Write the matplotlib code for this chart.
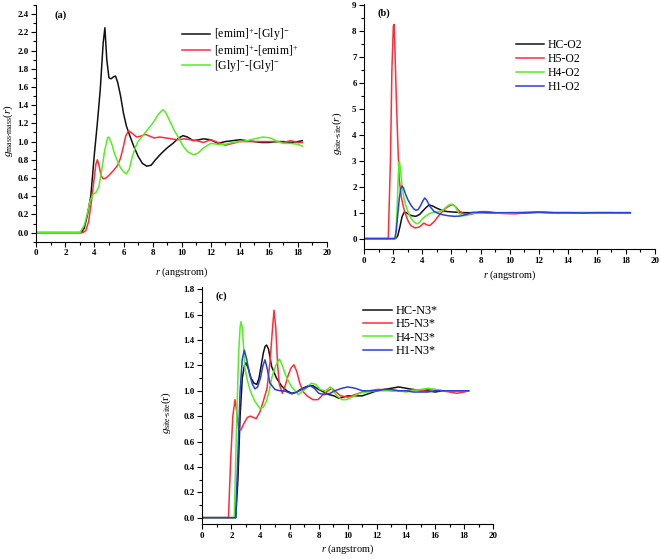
import numpy as np
import matplotlib
matplotlib.use('Agg')
import matplotlib.pyplot as plt
from matplotlib.ticker import MultipleLocator

plt.rcParams['font.family'] = ['Liberation Serif', 'DejaVu Serif']
plt.rcParams['mathtext.fontset'] = 'custom'
plt.rcParams['mathtext.rm'] = 'Liberation Serif'
plt.rcParams['mathtext.it'] = 'Liberation Serif:italic'

# ---- panel (a): centre of mass RDFs ----
a_black_r = [0, 3.1, 3.3, 3.5, 3.75, 4.0, 4.2, 4.4, 4.6, 4.72, 4.85, 5.0, 5.15, 5.3, 5.45, 5.6, 5.8, 6.0, 6.2, 6.4,
             6.7, 7.0, 7.3, 7.6, 7.9, 8.2, 8.6, 9.0, 9.4, 9.8, 10.1, 10.4, 10.8, 11.2, 11.5, 12.0, 12.5, 13.0, 13.5,
             14.0, 14.5, 15.0, 15.5, 16.0, 16.5, 17.0, 17.5, 18.0, 18.3]
a_black_g = [0, 0, 0.05, 0.18, 0.4, 0.87, 1.2, 1.57, 2.08, 2.25, 1.9, 1.70, 1.69, 1.71, 1.72, 1.65, 1.5, 1.31, 1.17, 1.08,
             0.95, 0.84, 0.76, 0.73, 0.74, 0.8, 0.87, 0.93, 0.98, 1.04, 1.065, 1.05, 1.01, 1.02, 1.03, 1.02, 0.98, 1.0, 1.01,
             1.02, 1.01, 1.0, 0.99, 0.99, 1.0, 1.0, 0.99, 1.0, 1.01]
a_red_r = [0, 3.2, 3.4, 3.6, 3.8, 4.0, 4.1, 4.2, 4.3, 4.45, 4.6, 4.8, 5.0, 5.3, 5.6, 5.8, 6.0, 6.15, 6.35, 6.6, 6.9,
           7.2, 7.5, 7.8, 8.1, 8.5, 8.9, 9.3, 9.7, 10.2, 10.6, 11.0, 11.5, 12.0, 12.5, 13.0, 13.5, 14.0, 14.5, 15.0,
           15.5, 16.0, 16.5, 17.0, 17.5, 18.0, 18.3]
a_red_g = [0, 0, 0.02, 0.12, 0.35, 0.62, 0.75, 0.80, 0.75, 0.63, 0.59, 0.6, 0.63, 0.68, 0.74, 0.82, 0.95, 1.06, 1.12, 1.09,
           1.05, 1.06, 1.08, 1.06, 1.04, 1.05, 1.04, 1.03, 1.02, 1.03, 1.02, 1.01, 0.99, 1.02, 0.99, 0.96, 0.98, 1.0, 1.0,
           1.0, 1.0, 1.0, 1.0, 0.99, 1.01, 0.99, 0.99]
a_green_r = [0, 3.0, 3.3, 3.5, 3.7, 3.9, 4.1, 4.3, 4.5, 4.7, 4.9, 5.0, 5.2, 5.4, 5.6, 5.8, 6.0, 6.2, 6.4, 6.6, 6.8,
             7.0, 7.3, 7.6, 8.0, 8.4, 8.7, 8.9, 9.2, 9.5, 9.8, 10.1, 10.4, 10.8, 11.1, 11.5, 12.0, 12.5, 13.0, 13.5,
             14.0, 14.5, 15.0, 15.6, 16.1, 16.6, 17.0, 17.5, 18.0, 18.3]
a_green_g = [0, 0, 0.08, 0.2, 0.35, 0.42, 0.44, 0.5, 0.68, 0.9, 1.04, 1.05, 0.97, 0.86, 0.78, 0.71, 0.67, 0.645, 0.7, 0.83,
             0.93, 1.0, 1.06, 1.12, 1.2, 1.3, 1.35, 1.32, 1.22, 1.12, 1.04, 0.95, 0.89, 0.855, 0.87, 0.93, 0.98, 0.97,
             0.97, 0.99, 1.0, 1.01, 1.03, 1.05, 1.04, 1.0, 0.98, 0.98, 0.97, 0.95]
a_labels = ['[emim]$^{+}$-[Gly]$^{-}$', '[emim]$^{+}$-[emim]$^{+}$', '[Gly]$^{-}$-[Gly]$^{-}$']

# ---- panel (b): H ... O2 site-site RDFs ----
b_hc_r = [0, 2.15, 2.3, 2.45, 2.6, 2.75, 2.9, 3.1, 3.3, 3.55, 3.8, 4.0, 4.2, 4.45, 4.7, 5.0, 5.3, 5.6, 6.0, 6.5,
          7, 8, 9, 10, 11, 12, 13, 14, 15, 16, 17, 18.3]
b_hc_g = [0, 0, 0.1, 0.45, 0.85, 1.02, 1.0, 0.92, 0.88, 0.86, 0.93, 1.05, 1.17, 1.3, 1.26, 1.17, 1.1, 1.05, 1.03, 1.01,
          1.0, 1.0, 0.99, 1.0, 1.0, 1.02, 1.0, 1.0, 1.0, 1.0, 1.0, 1.0]
b_h5_r = [0, 1.65, 1.8, 1.9, 2.0, 2.05, 2.1, 2.2, 2.3, 2.4, 2.55, 2.7, 2.8, 3.0, 3.2, 3.5, 3.8, 4.1, 4.3, 4.5, 4.8,
          5.0, 5.3, 5.6, 5.9, 6.1, 6.3, 6.5, 6.7, 7.0, 7.3, 7.6, 8.0, 8.5, 9.0, 9.5, 10.0, 10.5, 11, 12, 13, 14,
          15, 16, 17, 18.3]
b_h5_g = [0, 0, 3.0, 6.5, 8.2, 8.26, 7.5, 5.5, 3.8, 2.3, 1.6, 1.2, 1.0, 0.7, 0.5, 0.41, 0.45, 0.6, 0.53, 0.5, 0.65,
          0.8, 1.0, 1.17, 1.28, 1.31, 1.22, 1.08, 1.0, 0.93, 0.93, 0.98, 1.04, 1.04, 1.0, 0.97, 0.96, 0.96, 0.99, 1.01,
          1.0, 1.0, 1.0, 1.0, 1.0, 0.98]
b_h4_r = [0, 2.15, 2.25, 2.32, 2.38, 2.42, 2.5, 2.6, 2.75, 2.9, 3.05, 3.2, 3.4, 3.6, 3.8, 4.0, 4.2, 4.5, 4.8, 5.1,
          5.4, 5.7, 5.9, 6.1, 6.3, 6.5, 6.8, 7.1, 7.4, 7.8, 8.5, 9, 10, 11, 12, 13, 14, 15, 16, 17, 18.3]
b_h4_g = [0, 0, 1.0, 2.2, 2.9, 2.99, 2.6, 2.0, 1.5, 1.2, 0.98, 0.8, 0.65, 0.57, 0.62, 0.77, 0.86, 0.97, 1.02, 1.03,
          1.1, 1.25, 1.32, 1.32, 1.2, 0.98, 0.88, 0.9, 0.98, 1.0, 1.0, 0.99, 0.98, 1.02, 1.01, 1.0, 1.0, 1.0, 1.0,
          1.0, 1.0]
b_h1_r = [0, 2.1, 2.2, 2.3, 2.4, 2.5, 2.6, 2.7, 2.85, 3.0, 3.2, 3.4, 3.55, 3.7, 3.85, 4.0, 4.15, 4.3, 4.5, 4.8,
          5.1, 5.4, 5.8, 6.2, 6.6, 7.0, 7.4, 8.0, 9, 10, 11, 12, 13, 14, 15, 16, 17, 18.3]
b_h1_g = [0, 0, 0.3, 0.9, 1.5, 1.9, 2.03, 1.95, 1.7, 1.5, 1.3, 1.15, 1.09, 1.12, 1.25, 1.42, 1.57, 1.48, 1.25, 1.05,
          0.97, 0.92, 0.88, 0.86, 0.87, 0.93, 1.01, 1.02, 1.0, 1.0, 1.0, 1.02, 1.0, 1.0, 0.99, 1.0, 1.0, 1.0]
b_labels = ['HC-O2', 'H5-O2', 'H4-O2', 'H1-O2']

# ---- panel (c): H ... N3* site-site RDFs ----
c_hc_r = [0, 2.3, 2.45, 2.6, 2.75, 2.9, 3.0, 3.15, 3.35, 3.55, 3.75, 3.9, 4.05, 4.2, 4.32, 4.42, 4.55, 4.77, 5.1,
          5.44, 5.8, 6.15, 6.5, 6.73, 7.3, 7.6, 8.0, 8.35, 8.7, 9.05, 9.4, 10.0, 10.5, 11.0, 11.5, 12.0, 12.5, 13.0,
          13.5, 14.0, 14.5, 15.0, 15.5, 16.0, 16.5, 17.0, 17.5, 18.0, 18.3]
c_hc_g = [0, 0, 0.3, 0.8, 1.1, 1.2, 1.22, 1.18, 1.1, 1.06, 1.05, 1.1, 1.2, 1.3, 1.35, 1.36, 1.33, 1.19, 1.1,
          1.04, 1.0, 0.98, 0.99, 1.01, 1.04, 1.04, 1.01, 0.99, 0.97, 0.96, 0.94, 0.96, 0.96, 0.96, 0.98, 1.0, 1.01, 1.02,
          1.03, 1.02, 1.01, 1.0, 1.0, 0.99, 1.0, 1.0, 1.0, 1.0, 1.0]
c_h5_r = [0, 1.8, 1.95, 2.1, 2.25, 2.35, 2.5, 2.65, 2.85, 3.1, 3.3, 3.5, 3.7, 3.95, 4.2, 4.45, 4.65, 4.8, 4.93,
          5.05, 5.18, 5.3, 5.5, 5.7, 5.9, 6.1, 6.3, 6.5, 6.7, 6.95, 7.2, 7.6, 7.95, 8.3, 8.65, 8.9, 9.2, 9.5, 10.0,
          10.5, 11.0, 11.5, 12.0, 12.5, 13.0, 13.5, 14.0, 14.5, 15.0, 15.5, 16.0, 16.5, 17.0, 17.5, 18.0, 18.3]
c_h5_g = [0, 0, 0.45, 0.8, 0.93, 0.85, 0.7, 0.69, 0.74, 0.79, 0.8, 0.79, 0.78, 0.83, 0.92, 1.02, 1.22, 1.45, 1.635,
          1.5, 1.2, 1.05, 0.98, 1.04, 1.12, 1.18, 1.205, 1.15, 1.06, 0.99, 0.96, 0.93, 0.93, 0.97, 1.0, 1.02, 0.99, 0.96,
          0.95, 0.97, 0.99, 1.0, 1.01, 1.01, 1.0, 1.0, 1.0, 1.01, 1.0, 1.01, 1.01, 1.0, 0.99, 0.98, 0.99, 1.0]
c_h4_r = [0, 2.2, 2.35, 2.5, 2.6, 2.66, 2.75, 2.94, 3.1, 3.3, 3.6, 3.96, 4.2, 4.42, 4.6, 4.77, 5.05, 5.3, 5.5, 5.7,
          5.9, 6.15, 6.6, 7.05, 7.5, 7.8, 8.1, 8.45, 8.8, 9.25, 9.6, 9.9, 10.3, 10.8, 11.3, 12.0, 12.5, 13.0, 13.5,
          14.0, 14.5, 15.0, 15.5, 16.0, 16.5, 17.0, 17.5, 18.0, 18.3]
c_h4_g = [0, 0, 0.7, 1.3, 1.5, 1.544, 1.5, 1.17, 1.08, 1.0, 0.92, 0.86, 0.87, 0.92, 1.0, 1.1, 1.2, 1.25, 1.2, 1.13,
          1.08, 1.03, 0.97, 1.01, 1.06, 1.05, 1.01, 1.0, 1.03, 0.96, 0.93, 0.93, 0.95, 0.98, 0.99, 1.0, 1.0, 1.0, 1.0,
          0.99, 1.0, 1.01, 1.02, 1.01, 1.0, 1.0, 1.0, 1.0, 1.0]
c_h1_r = [0, 2.3, 2.45, 2.6, 2.75, 2.89, 3.05, 3.25, 3.45, 3.62, 3.8, 4.0, 4.15, 4.31, 4.45, 4.65, 5.0, 5.35, 5.7,
          6.15, 6.5, 6.84, 7.41, 7.7, 8.0, 8.4, 8.8, 9.1, 9.6, 10.0, 10.5, 11.0, 11.5, 12.0, 12.5, 13.0, 13.5, 14.0,
          14.5, 15.0, 15.5, 16.0, 16.5, 17.0, 17.5, 18.0, 18.3]
c_h1_g = [0, 0, 0.5, 1.0, 1.25, 1.32, 1.25, 1.13, 1.05, 1.015, 1.03, 1.1, 1.19, 1.244, 1.18, 1.06, 1.01, 1.0, 0.997,
          0.975, 0.99, 1.01, 1.04, 1.02, 0.98, 0.97, 0.98, 1.0, 1.02, 1.03, 1.02, 1.0, 1.0, 1.0, 1.01, 1.01, 1.0, 1.0,
          0.99, 0.99, 0.99, 1.0, 1.0, 1.0, 1.0, 1.0, 1.0]
c_labels = ['HC-N3*', 'H5-N3*', 'H4-N3*', 'H1-N3*']

BLACK, RED, GREEN, BLUE = '#111111', '#ff2d3a', '#55ee22', '#2a3fe0'
LW = 1.1

fig = plt.figure(figsize=(6.61, 5.59), dpi=100)
ax_a = fig.add_axes([0.0549, 0.5676, 0.4398, 0.4234])
ax_b = fig.add_axes([0.5511, 0.5546, 0.4398, 0.4382])
ax_c = fig.add_axes([0.3060, 0.0626, 0.4403, 0.4245])


def style(ax, ylim, ymaj, ymin, ylab, xlab_y, ylab_x, tag, tag_pos, yfmt):
    ax.set_xlim(0, 20)
    ax.set_ylim(*ylim)
    ax.spines['top'].set_visible(False)
    ax.spines['right'].set_visible(False)
    ax.xaxis.set_major_locator(MultipleLocator(2))
    ax.xaxis.set_minor_locator(MultipleLocator(1))
    ax.yaxis.set_major_locator(MultipleLocator(ymaj))
    ax.yaxis.set_minor_locator(MultipleLocator(ymin))
    ax.yaxis.set_major_formatter(plt.FuncFormatter(lambda v, p: yfmt.format(v)))
    ax.tick_params(which='major', direction='out', length=3.5, width=0.8, labelsize=6.5, pad=2)
    ax.tick_params(which='minor', direction='out', length=2, width=0.8)
    for t in ax.get_xticklabels() + ax.get_yticklabels():
        t.set_fontweight('bold')
    ax.set_xlabel('$r$ (angstrom)', fontsize=7.4)
    ax.xaxis.set_label_coords(0.5, xlab_y)
    ax.set_ylabel(ylab, fontsize=8)
    ax.yaxis.set_label_coords(ylab_x, 0.47)
    ax.text(tag_pos[0], tag_pos[1], tag, transform=ax.transAxes, fontsize=7.5,
            fontweight='bold', ha='left', va='center')


# (a)
ax_a.plot(a_black_r, a_black_g, color=BLACK, lw=LW, label=a_labels[0])
ax_a.plot(a_red_r, a_red_g, color=RED, lw=LW, label=a_labels[1])
ax_a.plot(a_green_r, a_green_g, color=GREEN, lw=LW, label=a_labels[2])
style(ax_a, (-0.1, 2.5), 0.2, 0.1, '$g_{\\mathrm{mass\\text{-}mass}}(r)$', -0.1, -0.072, '(a)', (0.064, 0.955), '{:.1f}')
ax_a.legend(loc='upper left', bbox_to_anchor=(0.48, 0.935), frameon=False, fontsize=8.5,
            handlelength=2.4, handletextpad=0.3, labelspacing=0.0, borderpad=0)

# (b)
ax_b.plot(b_hc_r, b_hc_g, color=BLACK, lw=LW, label=b_labels[0])
ax_b.plot(b_h5_r, b_h5_g, color=RED, lw=LW, label=b_labels[1])
ax_b.plot(b_h4_r, b_h4_g, color=GREEN, lw=LW, label=b_labels[2])
ax_b.plot(b_h1_r, b_h1_g, color=BLUE, lw=LW, label=b_labels[3])
style(ax_b, (-0.4, 9.05), 1, 0.5, '$g_{\\mathrm{site\\text{-}site}}(r)$', -0.078, -0.07, '(b)', (0.047, 0.963), '{:.0f}')
ax_b.legend(loc='upper left', bbox_to_anchor=(0.5, 0.882), frameon=False, fontsize=8.5,
            handlelength=2.4, handletextpad=0.3, labelspacing=0.17, borderpad=0)

# (c)
ax_c.plot(c_hc_r, c_hc_g, color=BLACK, lw=LW, label=c_labels[0])
ax_c.plot(c_h5_r, c_h5_g, color=RED, lw=LW, label=c_labels[1])
ax_c.plot(c_h4_r, c_h4_g, color=GREEN, lw=LW, label=c_labels[2])
ax_c.plot(c_h1_r, c_h1_g, color=BLUE, lw=LW, label=c_labels[3])
style(ax_c, (-0.05, 1.82), 0.2, 0.1, '$g_{\\mathrm{site\\text{-}site}}(\\mathrm{r})$', -0.08, -0.1, '(c)', (0.047, 0.962), '{:.1f}')
ax_c.legend(loc='upper left', bbox_to_anchor=(0.53, 0.948), frameon=False, fontsize=8.8,
            handlelength=2.4, handletextpad=0.3, labelspacing=0.1, borderpad=0)

fig.savefig('out.png', dpi=100)
